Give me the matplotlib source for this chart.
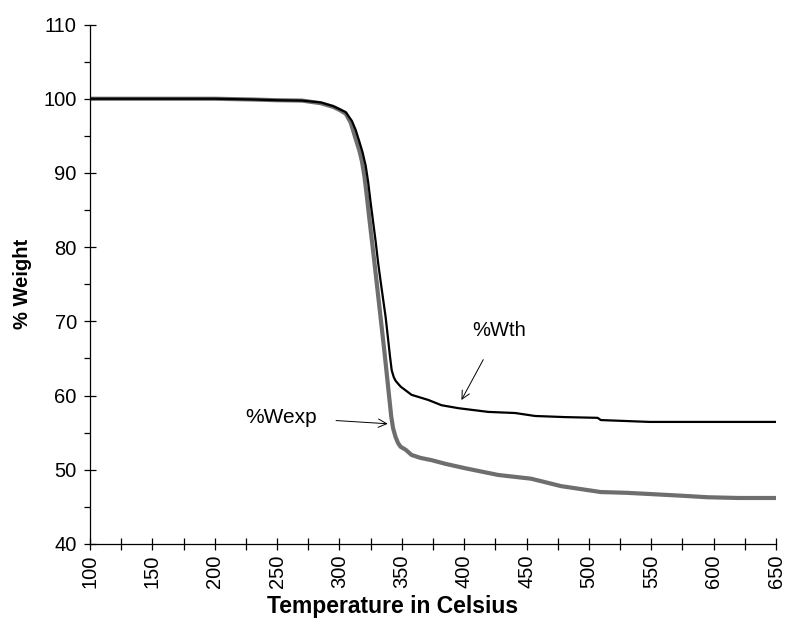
import numpy as np
import matplotlib.pyplot as plt
from matplotlib.ticker import MultipleLocator

plt.rcParams['font.family'] = ['Liberation Sans', 'DejaVu Sans']

# %Wexp - experimental curve (grey)
t_exp = [100, 150, 200, 230, 250, 270, 285, 295, 300, 305, 309, 313, 316,
         318, 320, 322, 324, 326, 328, 330, 332, 334, 336, 338, 340, 341.5,
         343, 345, 347, 349, 353.1, 357.8, 365, 373.8, 385, 401, 427.3,
         453.6, 477.6, 509.5, 530, 552.6, 575, 595, 620, 650]
w_exp = [100.0, 100.0, 100.0, 99.9, 99.8, 99.75, 99.4, 98.9, 98.5, 98.0,
         96.8, 94.6, 93.0, 91.6, 89.6, 86.8, 83.8, 80.9, 78.0, 75.0, 72.0,
         69.0, 66.0, 62.8, 59.6, 57.2, 55.6, 54.4, 53.6, 53.1, 52.7, 52.0,
         51.6, 51.3, 50.8, 50.2, 49.3, 48.8, 47.8, 47.0, 46.9, 46.7, 46.5,
         46.3, 46.2, 46.2]

# %Wth - theoretical curve (black)
t_th = [100, 150, 200, 230, 250, 270, 285, 295, 300, 305, 310, 313, 316,
        318.5, 321, 323, 325, 327, 329, 331, 333, 335, 337, 339, 340.5,
        341.9, 343.5, 345, 347, 349.1, 357.8, 371.4, 381.8, 395.4, 419.3,
        440.9, 456.8, 480.8, 507, 509.5, 548.6, 600, 650]
w_th = [100.0, 100.0, 100.0, 99.9, 99.8, 99.75, 99.5, 99.0, 98.6, 98.2,
        97.0, 95.8, 94.2, 92.8, 91.0, 88.8, 86.0, 83.4, 80.8, 77.9, 75.4,
        73.0, 70.6, 67.6, 65.3, 63.4, 62.5, 62.0, 61.6, 61.2, 60.1, 59.4,
        58.7, 58.3, 57.8, 57.65, 57.25, 57.1, 57.0, 56.7, 56.45, 56.45,
        56.45]

fig = plt.figure(figsize=(7.85, 6.21), dpi=100)
ax = fig.add_axes([0.1146, 0.124, 0.8740, 0.8365])

ax.plot(t_exp, w_exp, color='#6e6e6e', lw=3.0, solid_capstyle='butt')
ax.plot(t_th, w_th, color='black', lw=1.6)

ax.set_xlim(100, 650)
ax.set_ylim(40, 110)
ax.xaxis.set_major_locator(MultipleLocator(50))
ax.xaxis.set_minor_locator(MultipleLocator(25))
ax.yaxis.set_major_locator(MultipleLocator(10))
ax.yaxis.set_minor_locator(MultipleLocator(5))

for s in ['top', 'right']:
    ax.spines[s].set_visible(False)
for s in ['left', 'bottom']:
    ax.spines[s].set_linewidth(0.9)

ax.tick_params(axis='x', which='both', direction='inout', length=9, width=0.9,
               labelsize=14.5, labelrotation=90, pad=3)
ax.tick_params(axis='y', which='major', direction='inout', length=9, width=0.9,
               labelsize=14.5, pad=5)
ax.tick_params(axis='y', which='minor', direction='out', length=4, width=0.9)

# x label sits left of the axis centre in the original
fig.text(393 / 785, 1 - 607 / 621, 'Temperature in Celsius', fontsize=16.5,
         fontweight='bold', ha='center', va='center')
ax.set_ylabel('% Weight', fontsize=14.5, fontweight='bold', labelpad=8)

ax.annotate('%Wexp', xy=(338.7, 56.2), xytext=(253, 57.1), fontsize=15,
            ha='center', va='center',
            arrowprops=dict(arrowstyle='->', lw=0.7, color='black',
                            shrinkA=12, shrinkB=0))
ax.annotate('%Wth', xy=(397.8, 59.4), xytext=(428, 68.8), fontsize=14.5,
            ha='center', va='center',
            arrowprops=dict(arrowstyle='->', lw=0.7, color='black',
                            shrinkA=14, shrinkB=0))

fig.savefig('out.png', dpi=100)
